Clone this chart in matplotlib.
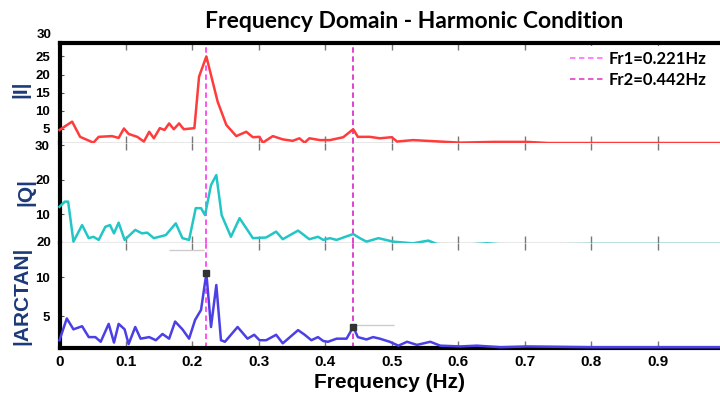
import matplotlib
matplotlib.use('Agg')
import matplotlib.pyplot as plt
import matplotlib.transforms as mtransforms

# resonance frequencies (Hz)
fr1 = 0.221
fr2 = 0.442

# |I| spectrum
freq_i = [0.0, 0.019, 0.031, 0.051, 0.059, 0.079, 0.089, 0.097, 0.104, 0.117,
          0.127, 0.135, 0.142, 0.151, 0.158, 0.165, 0.172, 0.180, 0.187, 0.203,
          0.210, 0.221, 0.238, 0.251, 0.266, 0.281, 0.291, 0.301, 0.306, 0.321,
          0.336, 0.351, 0.361, 0.369, 0.376, 0.392, 0.407, 0.427, 0.442, 0.449,
          0.467, 0.482, 0.500, 0.508, 0.532, 0.573, 0.603, 0.653, 0.704, 0.735,
          0.8, 0.9, 1.0]
amp_i = [4.7, 7.0, 2.8, 1.2, 2.8, 3.0, 2.5, 5.1, 3.6, 2.8,
         1.5, 4.2, 2.4, 5.2, 4.7, 6.5, 4.9, 6.5, 4.9, 5.2,
         19.4, 25.0, 12.5, 6.1, 3.0, 4.2, 2.7, 2.8, 1.2, 3.0,
         2.1, 1.7, 2.4, 1.2, 2.4, 1.9, 1.9, 2.7, 4.9, 2.8,
         2.8, 2.4, 2.7, 1.5, 1.9, 1.5, 1.2, 1.4, 1.4, 1.1,
         1.1, 1.1, 1.1]

# |Q| spectrum
freq_q = [0.0, 0.008, 0.013, 0.021, 0.034, 0.044, 0.051, 0.059, 0.069, 0.076,
          0.082, 0.089, 0.098, 0.114, 0.124, 0.132, 0.142, 0.160, 0.175, 0.185,
          0.195, 0.205, 0.213, 0.219, 0.228, 0.236, 0.244, 0.258, 0.271, 0.291,
          0.311, 0.326, 0.336, 0.359, 0.376, 0.389, 0.397, 0.407, 0.417, 0.442,
          0.452, 0.462, 0.480, 0.502, 0.532, 0.555, 0.568, 0.603, 0.643, 0.679,
          0.729, 0.8, 0.9, 1.0]
amp_q = [12.1, 13.6, 13.6, 2.0, 6.8, 3.0, 3.4, 2.5, 6.3, 6.8,
         4.4, 7.5, 2.5, 5.4, 4.4, 4.6, 3.0, 3.9, 7.3, 3.0,
         2.5, 11.7, 11.7, 9.7, 18.4, 21.3, 9.7, 3.4, 8.8, 3.0,
         3.2, 4.9, 2.7, 5.2, 2.7, 3.4, 2.5, 3.0, 2.5, 4.2,
         3.0, 2.0, 3.0, 2.0, 1.5, 2.3, 1.3, 1.0, 1.5, 1.0,
         1.2, 1.3, 1.3, 1.3]

# |ARCTAN| spectrum
freq_a = [0.0, 0.011, 0.021, 0.034, 0.044, 0.054, 0.062, 0.074, 0.082, 0.089,
          0.098, 0.104, 0.114, 0.122, 0.135, 0.145, 0.155, 0.165, 0.174, 0.185,
          0.195, 0.204, 0.213, 0.221, 0.228, 0.236, 0.243, 0.249, 0.268, 0.283,
          0.293, 0.301, 0.311, 0.326, 0.336, 0.359, 0.369, 0.379, 0.389, 0.397,
          0.404, 0.417, 0.432, 0.442, 0.449, 0.462, 0.472, 0.482, 0.497, 0.510,
          0.523, 0.538, 0.558, 0.573, 0.603, 0.628, 0.664, 0.704, 0.8, 0.9, 1.0]
amp_a = [1.9, 4.7, 3.3, 3.7, 2.3, 2.3, 1.7, 4.0, 1.6, 4.0,
         3.3, 1.4, 3.6, 2.1, 2.3, 1.9, 2.7, 2.1, 4.3, 3.3,
         2.1, 4.5, 5.8, 10.5, 3.6, 9.0, 1.9, 1.7, 3.6, 2.1,
         2.6, 1.9, 1.9, 2.6, 1.5, 3.2, 2.6, 1.9, 2.3, 1.8,
         1.7, 2.1, 2.1, 3.6, 2.3, 2.0, 2.3, 2.1, 1.7, 1.2,
         1.7, 1.3, 1.7, 1.2, 1.1, 1.2, 1.0, 1.1, 1.0, 1.0, 1.0]

x_ticks = [0, 0.1, 0.2, 0.3, 0.4, 0.5, 0.6, 0.7, 0.8, 0.9, 1]
x_ticklabels = ['0', '0.1', '0.2', '0.3', '0.4', '0.5', '0.6', '0.7', '0.8', '0.9', '1']

W, H = 720, 396
fig = plt.figure(figsize=(W / 100, H / 100), dpi=100)

def px_axes(top, bottom, left=59.5, right=724):
    return fig.add_axes([left / W, 1 - bottom / H, (right - left) / W, (bottom - top) / H])

ax1 = px_axes(43, 143)
ax2 = px_axes(143, 243)
ax3 = px_axes(243, 348)

tick_font = dict(family='Liberation Sans', weight='bold', size=9.5)
ylab_col = '#1c3a78'

panels = [
    (ax1, freq_i, amp_i, '#ff3b3b', (1.1, 28.7), [5, 10, 15, 20, 25]),
    (ax2, freq_q, amp_q, '#22c6c6', (1.6, 30.6), [10, 20, 30]),
    (ax3, freq_a, amp_a, '#4b3fe6', (0.9, 14.4), [5, 10]),
]
for ax, f, a, col, ylim, yt in panels:
    ax.plot(f, a, color=col, lw=1.8, clip_on=False, zorder=3)
    ax.set_xlim(0, 1)
    ax.set_ylim(*ylim)
    ax.set_yticks(yt)
    ax.set_yticklabels([str(v) for v in yt], fontdict=tick_font)
    ax.set_xticks(x_ticks)
    ax.tick_params(axis='x', which='both', direction='in', top=True, bottom=True,
                   length=5, color='#777777', width=1)
    ax.tick_params(axis='y', direction='in', length=3, color='#555555', pad=7)
    ax.axvline(fr1, color='#ff44ee', lw=1.3, ls=(0, (3, 2)), zorder=2)
    ax.axvline(fr2, color='#dd33cc', lw=1.3, ls=(0, (3, 2)), zorder=2)
    ax.spines['right'].set_visible(False)
    ax.spines['left'].set_linewidth(3)
    ax.spines['left'].set_color('black')
    ax.spines['top'].set_visible(False)
    ax.spines['bottom'].set_color('#888888')
    ax.spines['bottom'].set_linewidth(1)

for ax in (ax1, ax2):
    ax.set_xticklabels([])

ax1.spines['top'].set_visible(True)
ax1.spines['top'].set_linewidth(3)
ax3.spines['bottom'].set_color('black')
ax3.spines['bottom'].set_linewidth(3)

ax3.set_xticklabels(x_ticklabels, fontdict=dict(family='Liberation Sans', weight='bold', size=11))
ax3.tick_params(axis='x', pad=5)

# stray axis labels left at the panel joins
trans1 = mtransforms.blended_transform_factory(ax1.transAxes, ax1.transData)
ax1.text(-0.012, 30.9, '30', transform=trans1, ha='right', va='center', **tick_font)
ax3.text(-0.012, 1.0, '20', transform=ax3.transAxes, ha='right', va='center', **tick_font)

# datatips on the ARCTAN peaks
tip_f = [fr1, fr2]
tip_a = [amp_a[freq_a.index(fr1)], amp_a[freq_a.index(fr2)]]
ax3.plot(tip_f, tip_a, 's', color='#333333', ms=4, zorder=4)
ax3.hlines([13.5, 3.85], [0.165, 0.442], [0.218, 0.503], color='#cccccc', lw=1)

ylab_font = dict(family='Liberation Sans', weight='bold', size=15, color=ylab_col)
fig.text(21 / W, 1 - 89 / H, '|I|', rotation=90, ha='center', va='center', **ylab_font)
fig.text(26 / W, 1 - 192 / H, '|Q|', rotation=90, ha='center', va='center', **ylab_font)
fig.text(22 / W, 1 - 296 / H, '|ARCTAN|', rotation=90, ha='center', va='center', **ylab_font)

fig.text(414 / W, 1 - 21 / H, 'Frequency Domain - Harmonic Condition',
         ha='center', va='center', family='Lato', weight='bold', size=16.5)
fig.text(390 / W, 1 - 382 / H, 'Frequency (Hz)', ha='center', va='center',
         family='Liberation Sans', weight='bold', size=15)

h1, = ax1.plot([], [], color='#ff77ff', lw=1.3, ls=(0, (3, 2)))
h2, = ax1.plot([], [], color='#e050c8', lw=1.3, ls=(0, (3, 2)))
leg = fig.legend([h1, h2], ['Fr1=%.3fHz' % fr1, 'Fr2=%.3fHz' % fr2],
                 loc='upper right', bbox_to_anchor=(1.0, 1 - 38 / H),
                 frameon=True, framealpha=1, facecolor='white', edgecolor='none',
                 fancybox=False, handlelength=2.0, handletextpad=0.3,
                 borderpad=0.3, labelspacing=0.3,
                 prop=dict(family='Lato', weight='bold', size=12))
leg.set_zorder(10)

fig.savefig('out.png', dpi=100)
